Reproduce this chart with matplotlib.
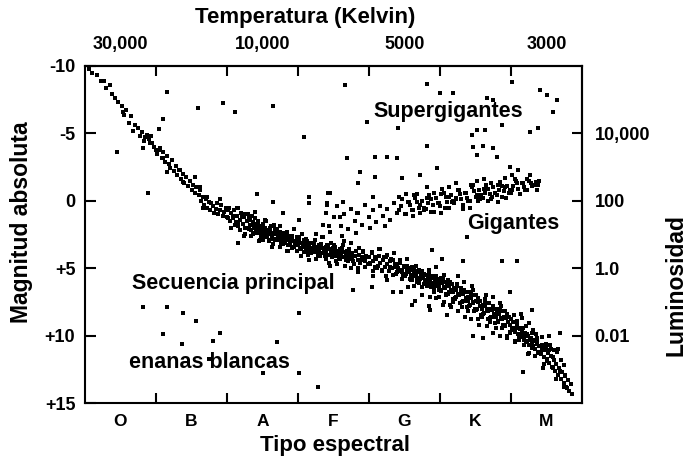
import numpy as np
import matplotlib
matplotlib.use("Agg")
import matplotlib.pyplot as plt

# Diagrama H-R: x = tipo espectral (O=0.5 ... M=6.5), y = magnitud absoluta
spectral = ['O', 'B', 'A', 'F', 'G', 'K', 'M']
temp_labels = ['30,000', '10,000', '5000', '3000']
temp_pos = [0.5, 2.5, 4.5, 6.5]
mag_ticks = [-10, -5, 0, 5, 10, 15]
mag_labels = ['-10', '-5', '0', '+5', '+10', '+15']
lum_ticks = [-5, 0, 5, 10]
lum_labels = ['10,000', '100', '1.0', '0.01']

# secuencia principal (estimado a ojo)
ms_hot = [(0.05, -9.8), (0.1, -9.5), (0.17, -9.3), (0.22, -8.9), (0.27, -8.9), (0.3, -8.4), (0.35, -8.6),
          (0.38, -7.9), (0.42, -7.6), (0.47, -7.3), (0.52, -7.0), (0.54, -6.6), (0.58, -6.7), (0.55, -6.4),
          (0.65, -6.3), (0.62, -5.8), (0.7, -5.6), (0.75, -5.4), (0.68, -5.2), (0.8, -5.1), (0.78, -4.8),
          (0.85, -4.7), (0.9, -4.6), (0.95, -4.3), (0.88, -4.9), (0.97, -4.0), (1.0, -3.8), (0.83, -4.4),
          (0.93, -4.8), (0.82, -3.9), (0.92, -4.3), (1.06, -3.8), (1.1, -3.2), (1.22, -3.0), (1.34, -2.3),
          (1.38, -1.4), (1.55, -1.8), (1.62, -1.0), (1.72, -0.3), (1.66, 0.5), (1.9, -0.1), (2.0, 0.7)]
ms_b = [(1.02, -3.5), (1.05, -3.9), (1.08, -3.2), (1.1, -3.6), (1.12, -2.9), (1.15, -3.3), (1.18, -2.7),
        (1.2, -2.4), (1.22, -3.0), (1.25, -2.2), (1.28, -2.6), (1.3, -1.9), (1.33, -2.3), (1.35, -1.6),
        (1.38, -2.0), (1.4, -1.3), (1.42, -1.8), (1.45, -1.1), (1.48, -1.5), (1.5, -0.8), (1.52, -1.2),
        (1.55, -0.6), (1.57, -1.0), (1.6, -0.4), (1.62, -0.8), (1.64, 0.0), (1.66, -0.3), (1.68, 0.3),
        (1.7, -0.1), (1.72, 0.5), (1.74, 0.1), (1.76, 0.7), (1.78, 0.2), (1.8, 0.4), (1.82, 0.9),
        (1.84, 0.6), (1.86, 0.2), (1.88, 1.0), (1.9, 0.7), (1.92, 0.3), (1.94, 1.1), (1.96, 0.8), (1.98, 0.5)]
ms_a = [(2.00, 1.2), (2.02, 0.6), (2.04, 1.5), (2.06, 0.9), (2.08, 1.3), (2.10, 0.7), (2.12, 1.6),
        (2.14, 1.1), (2.16, 1.9), (2.18, 1.4), (2.20, 0.9), (2.22, 1.7), (2.24, 1.2), (2.26, 2.0),
        (2.28, 1.5), (2.30, 1.0), (2.32, 1.8), (2.34, 2.2), (2.36, 1.6), (2.38, 2.0), (2.40, 1.3),
        (2.42, 2.4), (2.44, 1.8), (2.46, 2.1), (2.48, 2.6), (2.50, 1.7), (2.52, 2.3), (2.54, 2.0),
        (2.56, 2.7), (2.58, 2.2), (2.60, 2.5), (2.62, 1.9), (2.64, 2.8), (2.66, 2.4), (2.68, 2.1),
        (2.70, 2.9), (2.72, 2.6), (2.74, 2.3), (2.76, 3.1), (2.78, 2.7), (2.80, 2.4), (2.82, 3.0),
        (2.84, 2.8), (2.86, 3.3), (2.88, 2.6), (2.90, 3.0), (2.92, 2.8), (2.94, 3.4), (2.96, 3.1),
        (2.98, 2.7), (2.15, 0.5), (2.35, 1.1), (2.55, 1.5), (2.75, 1.9), (2.45, 3.0), (2.65, 3.2),
        (2.85, 3.7), (2.25, 2.5), (2.05, 2.0), (2.50, 2.9), (2.15, 3.1),
        (2.31, 2.1), (2.33, 1.4), (2.37, 2.5), (2.39, 1.7), (2.41, 2.0), (2.43, 1.5), (2.47, 2.3),
        (2.49, 1.9), (2.51, 2.5), (2.53, 2.0), (2.57, 2.4), (2.59, 2.9), (2.61, 2.2), (2.63, 2.6),
        (2.67, 2.9), (2.69, 2.5), (2.71, 2.2), (2.73, 2.8), (2.77, 2.5), (2.79, 3.0), (2.81, 2.7),
        (2.83, 2.4), (2.87, 2.9), (2.89, 3.2), (2.91, 2.6), (2.93, 3.0), (2.97, 3.3), (2.99, 2.9)]
ms_f = [(3.00, 3.3), (3.02, 2.9), (3.04, 3.6), (3.06, 3.1), (3.08, 3.8), (3.10, 3.4), (3.12, 3.0),
        (3.14, 3.7), (3.16, 3.3), (3.18, 3.9), (3.20, 3.5), (3.22, 3.1), (3.24, 3.8), (3.26, 3.4),
        (3.28, 4.0), (3.30, 3.6), (3.32, 3.2), (3.34, 3.9), (3.36, 3.5), (3.38, 4.1), (3.40, 3.7),
        (3.42, 3.3), (3.44, 4.0), (3.46, 3.6), (3.48, 4.2), (3.50, 3.8), (3.52, 3.4), (3.54, 4.1),
        (3.56, 3.7), (3.58, 4.3), (3.60, 3.9), (3.62, 3.5), (3.64, 4.2), (3.66, 3.8), (3.68, 4.4),
        (3.70, 4.0), (3.72, 3.6), (3.74, 4.3), (3.76, 3.9), (3.78, 4.5), (3.80, 4.1), (3.82, 3.7),
        (3.84, 4.4), (3.86, 4.0), (3.88, 4.6), (3.90, 4.2), (3.92, 3.8), (3.94, 4.5), (3.96, 4.1),
        (3.98, 4.7), (3.15, 4.4), (3.45, 4.8), (3.75, 5.0), (3.35, 2.7), (3.65, 3.0), (3.85, 5.3),
        (3.55, 4.7), (3.25, 2.5),
        (3.01, 3.1), (3.03, 3.5), (3.07, 3.2), (3.09, 2.9), (3.11, 3.6), (3.13, 3.2), (3.17, 3.5),
        (3.19, 3.1), (3.21, 3.8), (3.23, 3.4), (3.27, 3.7), (3.29, 3.3), (3.31, 3.9), (3.33, 3.5),
        (3.37, 3.8), (3.39, 3.4), (3.41, 4.0), (3.43, 3.6), (3.47, 3.9), (3.49, 3.5), (3.51, 4.1),
        (3.53, 3.7), (3.57, 4.0), (3.59, 3.6), (3.61, 4.2), (3.63, 3.8), (3.67, 4.1), (3.69, 3.7),
        (3.71, 4.3), (3.73, 3.9)]
ms_g = [(4.00, 4.2), (4.02, 4.7), (4.04, 3.9), (4.06, 4.5), (4.08, 4.9), (4.10, 4.3), (4.12, 4.8),
        (4.14, 4.1), (4.16, 4.6), (4.18, 5.1), (4.20, 4.4), (4.22, 4.9), (4.24, 4.2), (4.26, 4.7),
        (4.28, 5.2), (4.30, 4.5), (4.32, 5.0), (4.34, 4.4), (4.36, 4.9), (4.38, 5.4), (4.40, 4.7),
        (4.42, 5.2), (4.44, 4.6), (4.46, 5.1), (4.48, 5.6), (4.50, 4.9), (4.52, 5.4), (4.54, 4.8),
        (4.56, 5.3), (4.58, 5.8), (4.60, 5.1), (4.62, 5.6), (4.64, 5.0), (4.66, 5.5), (4.68, 6.0),
        (4.70, 5.3), (4.72, 5.8), (4.74, 5.2), (4.76, 5.7), (4.78, 6.2), (4.80, 5.5), (4.82, 6.0),
        (4.84, 5.4), (4.86, 5.9), (4.88, 6.4), (4.90, 5.7), (4.92, 6.2), (4.94, 5.6), (4.96, 6.1),
        (4.98, 6.6), (4.05, 5.6), (4.25, 5.9), (4.55, 6.4), (4.65, 7.4), (4.75, 7.0), (4.85, 7.8),
        (4.45, 6.8), (4.15, 3.6), (4.35, 3.9), (4.95, 7.2),
        (4.41, 5.0), (4.43, 4.5), (4.47, 5.3), (4.49, 4.8), (4.51, 5.6), (4.53, 5.1), (4.57, 5.0),
        (4.59, 5.5), (4.61, 5.9), (4.63, 5.3), (4.67, 5.7), (4.69, 5.2), (4.71, 6.1), (4.73, 5.5),
        (4.77, 5.4), (4.79, 5.9), (4.81, 6.3), (4.83, 5.7), (4.87, 6.1), (4.89, 5.6), (4.91, 6.5),
        (4.93, 5.9), (4.97, 5.8), (4.99, 6.3)]
ms_k = [(5.00, 6.0), (5.02, 6.6), (5.04, 5.8), (5.06, 6.4), (5.08, 7.0), (5.10, 6.2), (5.12, 6.8),
        (5.14, 6.0), (5.16, 6.6), (5.18, 7.3), (5.20, 6.5), (5.22, 7.1), (5.24, 6.3), (5.26, 6.9),
        (5.28, 7.6), (5.30, 6.8), (5.32, 7.4), (5.34, 6.6), (5.36, 7.2), (5.38, 7.9), (5.40, 7.1),
        (5.42, 7.7), (5.44, 6.9), (5.46, 7.5), (5.48, 8.2), (5.50, 7.4), (5.52, 8.0), (5.54, 7.2),
        (5.56, 7.8), (5.58, 8.5), (5.60, 7.7), (5.62, 8.3), (5.64, 7.5), (5.66, 8.1), (5.68, 8.8),
        (5.70, 8.0), (5.72, 8.6), (5.74, 7.8), (5.76, 8.4), (5.78, 9.1), (5.80, 8.3), (5.82, 8.9),
        (5.84, 8.1), (5.86, 8.7), (5.88, 9.4), (5.90, 8.6), (5.92, 9.2), (5.94, 8.4), (5.96, 9.0),
        (5.98, 9.7), (5.15, 7.9), (5.35, 8.6), (5.55, 9.2), (5.75, 9.8), (5.25, 5.6), (5.45, 6.3),
        (5.65, 7.0), (5.85, 7.6), (5.05, 7.5), (5.95, 10.2),
        (5.01, 6.7), (5.03, 6.1), (5.07, 6.5), (5.09, 6.0), (5.11, 6.9), (5.13, 6.3), (5.17, 6.2),
        (5.19, 6.8), (5.21, 7.2), (5.23, 6.6), (5.27, 7.0), (5.29, 6.5), (5.31, 7.5), (5.33, 6.9),
        (5.37, 6.8), (5.39, 7.4), (5.41, 7.8), (5.43, 7.2), (5.47, 7.6), (5.49, 7.0), (5.51, 8.1),
        (5.53, 7.5), (5.57, 7.4), (5.59, 8.0), (5.61, 8.4), (5.63, 7.8), (5.67, 8.2), (5.69, 7.6),
        (5.71, 8.7), (5.73, 8.1), (5.77, 8.0), (5.79, 8.6), (5.81, 9.0), (5.83, 8.4), (5.87, 8.8),
        (5.89, 8.2), (5.91, 9.3), (5.93, 8.7), (5.97, 8.6), (5.99, 9.2)]
ms_m = [(6.00, 8.8), (6.02, 9.4), (6.04, 9.0), (6.06, 9.7), (6.08, 9.2), (6.10, 9.9), (6.12, 9.4),
        (6.14, 10.1), (6.16, 9.6), (6.18, 10.3), (6.20, 9.8), (6.22, 10.5), (6.24, 10.0), (6.26, 10.7),
        (6.28, 10.2), (6.30, 10.9), (6.32, 10.4), (6.34, 11.0), (6.36, 10.6), (6.38, 11.2), (6.40, 10.8),
        (6.42, 11.4), (6.44, 10.9), (6.46, 11.6), (6.48, 11.1), (6.50, 11.8), (6.52, 11.3), (6.54, 12.0),
        (6.56, 11.5), (6.58, 12.3), (6.60, 11.8), (6.62, 12.6), (6.64, 12.1), (6.66, 12.9), (6.68, 12.4),
        (6.70, 13.2), (6.72, 12.7), (6.74, 13.5), (6.76, 13.0), (6.78, 13.8), (6.80, 13.3), (6.82, 14.1),
        (6.84, 13.6), (6.86, 14.3), (6.05, 10.4), (6.25, 11.3), (6.45, 12.4), (6.15, 8.7), (6.35, 9.9),
        (6.55, 10.7), (6.65, 11.2), (6.75, 12.2), (6.69, 9.8), (6.3, 8.1), (6.17, 12.7),
        (6.01, 9.6), (6.03, 9.0), (6.07, 9.4), (6.09, 8.9), (6.11, 10.0), (6.13, 9.5), (6.17, 9.4),
        (6.19, 10.0), (6.21, 10.4), (6.23, 9.9), (6.27, 10.3), (6.29, 9.8), (6.31, 10.8), (6.33, 10.3),
        (6.37, 10.2), (6.39, 10.8), (6.41, 11.2), (6.43, 10.7), (6.47, 11.1), (6.49, 10.6), (6.51, 11.7),
        (6.53, 11.1), (6.57, 11.0), (6.59, 11.6)]
# mas estrellas en la banda, dispersion irregular
ms_band = [(2.01, 1.3), (2.035, 0.5), (2.06, 2.0), (2.09, 1.1), (2.11, 1.8), (2.14, 0.5), (2.16, 1.6),
           (2.19, 2.2), (2.21, 1.2), (2.24, 2.6), (2.26, 1.0), (2.29, 2.0), (2.31, 1.3), (2.34, 2.6),
           (2.36, 1.8), (2.39, 2.4), (2.41, 2.3), (2.44, 1.5), (2.46, 2.9), (2.49, 2.0), (2.51, 2.7),
           (2.54, 1.4), (2.56, 2.4), (2.59, 3.0), (2.61, 2.0), (2.64, 3.4), (2.66, 1.8), (2.69, 2.8),
           (2.71, 2.1), (2.74, 3.4), (2.76, 2.6), (2.79, 3.2), (2.81, 3.1), (2.84, 2.3), (2.86, 3.7),
           (2.89, 2.7), (2.91, 3.5), (2.94, 2.1), (2.96, 3.1), (2.99, 3.7), (3.01, 2.7), (3.04, 4.1),
           (3.06, 2.5), (3.09, 3.4), (3.11, 2.8), (3.14, 4.0), (3.16, 3.2), (3.19, 3.8), (3.21, 3.7),
           (3.24, 2.9), (3.26, 4.3), (3.29, 3.3), (3.31, 4.1), (3.34, 2.7), (3.36, 3.7), (3.39, 4.3),
           (3.41, 3.3), (3.44, 4.6), (3.46, 3.1), (3.49, 4.0), (3.51, 3.3), (3.54, 4.5), (3.56, 3.8),
           (3.59, 4.3), (3.61, 4.2), (3.64, 3.3), (3.66, 4.8), (3.69, 3.8), (3.71, 4.5), (3.74, 3.1),
           (3.76, 4.2), (3.79, 4.7), (3.81, 3.7), (3.84, 5.0), (3.86, 3.5), (3.89, 4.4), (3.91, 3.7),
           (3.94, 4.9), (3.96, 4.2), (3.99, 4.7), (4.01, 4.6), (4.04, 3.8), (4.06, 5.2), (4.09, 4.2),
           (4.11, 5.0), (4.14, 3.6), (4.16, 4.6), (4.19, 5.2), (4.21, 4.2), (4.24, 5.6), (4.26, 4.0),
           (4.29, 4.9), (4.31, 4.3), (4.34, 5.5), (4.36, 4.7), (4.39, 5.3), (4.41, 5.2), (4.44, 4.4),
           (4.46, 5.8), (4.49, 4.9), (4.51, 5.6), (4.54, 4.3), (4.56, 5.3), (4.59, 5.9), (4.61, 4.9),
           (4.64, 6.3), (4.66, 4.8), (4.69, 5.7), (4.71, 5.1), (4.74, 6.4), (4.76, 5.6), (4.79, 6.2),
           (4.81, 6.2), (4.84, 5.1), (4.86, 7.1), (4.89, 5.7), (4.91, 6.8), (4.94, 4.9), (4.96, 6.3),
           (4.99, 7.1), (5.01, 5.7), (5.04, 7.7), (5.06, 5.5), (5.09, 6.9), (5.11, 5.9), (5.14, 7.7),
           (5.16, 6.7), (5.19, 7.5), (5.21, 7.3), (5.24, 6.2), (5.26, 8.2), (5.29, 6.8), (5.31, 7.9),
           (5.34, 6.0), (5.36, 7.4), (5.39, 8.2), (5.41, 6.8), (5.44, 8.8), (5.46, 6.6), (5.49, 8.0),
           (5.51, 7.0), (5.54, 8.8), (5.56, 7.8), (5.59, 8.6), (5.61, 8.4), (5.64, 7.3), (5.66, 9.3),
           (5.69, 8.0), (5.71, 9.0), (5.74, 7.1), (5.76, 8.6), (5.79, 9.4), (5.81, 8.0), (5.84, 10.0),
           (5.86, 7.8), (5.89, 9.2), (5.91, 8.2), (5.94, 10.0), (5.96, 9.0), (5.99, 9.8), (6.01, 9.6),
           (6.04, 8.5), (6.06, 10.5), (6.09, 9.2), (6.11, 10.3), (6.14, 8.4), (6.16, 9.9), (6.19, 10.7),
           (6.21, 9.3), (6.24, 11.4), (6.26, 9.1), (6.29, 10.6), (6.31, 9.6), (6.34, 11.5), (6.36, 10.4),
           (6.39, 11.3), (6.41, 11.2), (6.44, 10.1), (6.46, 12.1), (6.49, 10.8), (6.51, 11.9), (6.54, 10.0),
           (6.56, 11.5), (6.59, 12.4), (6.61, 11.1), (6.64, 13.2), (6.66, 11.0), (6.69, 12.6), (6.71, 11.8),
           (6.74, 13.8), (6.76, 12.9), (6.79, 13.9)]
ms_below = [(3.77, 6.6), (4.04, 6.4), (4.34, 6.8), (4.6, 7.7), (4.86, 8.1), (5.1, 8.5), (5.46, 10.0),
            (5.6, 10.2), (6.08, 4.5), (5.99, 6.8), (5.87, 4.5), (5.32, 4.5), (5.38, 2.7), (4.89, 3.65),
            (5.03, 4.3)]

# gigantes
giants = [(3.35, 1.8), (3.40, 0.9), (3.45, 2.3), (3.50, 1.2), (3.55, 0.4), (3.60, 1.9), (3.65, 1.0),
          (3.70, 2.1), (3.75, 0.6), (3.80, 1.5), (3.85, 0.9), (3.90, 1.8), (3.95, 0.3), (4.00, 1.2),
          (4.05, 0.7), (4.10, 1.6), (4.15, 0.4), (4.20, 1.1), (4.25, 0.6), (4.30, 1.4), (4.35, 0.2),
          (4.40, 0.9), (4.45, 0.4), (4.50, 1.0), (4.55, 0.1), (4.60, 0.7), (4.65, -0.2), (4.70, 0.5),
          (4.75, 0.0), (4.80, 0.6), (4.85, -0.4), (4.90, 0.3), (4.95, -0.2), (5.00, 0.4), (5.05, -0.6),
          (5.10, 0.1), (5.15, -0.4), (5.20, 0.2), (5.25, -0.8), (5.30, -0.1), (5.35, -0.6), (5.40, 0.0),
          (5.45, -1.0), (5.50, -0.3), (5.55, -0.8), (5.60, -0.2), (5.65, -1.2), (5.70, -0.5), (5.75, -1.0),
          (5.80, -0.4), (5.85, -1.4), (5.90, -0.7), (5.95, -1.1), (6.00, -0.6), (6.05, -1.6), (6.10, -0.9),
          (6.15, -1.3), (6.20, -0.8), (6.25, -1.5), (6.30, -1.1), (6.35, -1.4), (4.42, -0.3), (4.62, 1.1),
          (4.82, -1.0), (5.02, 0.9), (5.22, -1.3), (5.42, 0.5), (5.62, -1.6), (5.82, 0.1), (6.02, -1.9),
          (4.72, 0.9), (4.92, 0.8), (5.12, -1.0), (5.32, 0.6), (5.52, -1.5), (5.72, -0.1), (5.92, -1.7),
          (6.12, -0.5), (4.52, -0.5), (4.22, 1.9), (4.02, 2.0), (3.82, 2.4), (3.62, 2.6),
          (4.58, 0.3), (4.68, 0.1), (4.78, 0.5), (4.88, -0.1), (4.98, 0.2), (5.08, -0.3), (5.18, 0.0),
          (5.28, -0.5), (5.38, -0.2), (5.48, -0.7), (5.58, -0.4), (5.68, -0.9), (5.78, -0.6), (5.88, -1.1),
          (5.98, -0.8), (6.08, -1.3), (6.18, -1.0), (6.28, -1.3), (4.63, -0.4), (4.83, 0.2), (5.03, -0.9),
          (5.23, -0.2), (5.43, -1.2), (5.63, -0.6), (5.83, -0.8), (6.03, -1.1), (6.23, -1.6), (5.13, 0.5),
          (5.33, 0.3), (5.53, 0.0), (5.73, -0.3), (5.93, -0.2), (6.38, -1.2), (6.40, -1.5),
          (4.42, 0.7), (4.47, -0.1), (4.52, 1.0), (4.57, 0.1), (4.62, 0.7), (4.67, -0.5), (4.72, 0.3),
          (4.77, 0.7), (4.82, -0.2), (4.87, 0.8), (4.92, -0.6), (4.97, 0.2), (5.02, -0.5), (5.07, 0.5),
          (5.12, -0.3), (5.17, 0.1), (5.22, -0.1), (5.27, -0.8), (5.32, 0.3), (5.37, -0.6), (5.42, 0.0),
          (5.47, -1.2), (5.52, -0.4), (5.57, -0.1), (5.62, -0.9), (5.67, 0.0), (5.72, -1.3), (5.77, -0.6),
          (5.82, -1.2), (5.87, -0.3), (5.92, -1.0), (5.97, -0.6), (6.02, -0.8), (6.07, -1.5), (6.12, -0.5),
          (6.17, -1.3), (6.22, -0.8), (6.27, -1.9), (6.32, -1.2), (6.36, -0.8),
          (2.42, -0.5), (2.65, 0.1), (3.15, -0.3), (3.15, 0.2), (3.42, -0.6), (3.41, 0.3), (3.44, 1.9),
          (3.01, 1.4), (2.79, 0.9), (2.39, 0.8), (3.45, -0.6), (3.63, 0.1), (3.85, -1.3), (3.83, 0.9),
          (3.59, 1.2), (3.41, 0.2), (4.06, -0.3), (0.89, -0.6), (1.15, -2.1)]

# supergigantes y estrellas dispersas arriba
supergiants = [(1.15, -8.1), (1.59, -6.9), (1.94, -7.25), (2.11, -6.6), (2.65, -7.0), (1.1, -6.1),
               (1.04, -5.3), (0.45, -3.6), (3.08, -4.7), (3.69, -3.2), (4.08, -3.25), (4.25, -3.25),
               (4.39, -3.2), (3.87, -2.1), (4.08, -1.8), (4.46, -1.7), (4.72, -1.9), (4.96, -2.4),
               (4.82, -4.1), (5.46, -4.0), (5.6, -4.1), (5.52, -3.4), (5.75, -3.9), (5.8, -3.25),
               (5.99, -2.5), (6.1, -2.3), (6.59, -6.6), (6.65, -7.5), (6.41, -8.2), (6.5, -7.85),
               (6.01, -8.8), (6.38, -5.4), (6.27, -5.1), (5.87, -5.6), (5.63, -5.25), (5.52, -5.25),
               (5.45, -4.9), (5.0, -8.0), (5.18, -8.0), (4.82, -8.7), (3.97, -5.85), (4.41, -5.4),
               (5.66, -7.6), (5.75, -7.5), (3.66, -8.6)]

# enanas blancas
dwarfs = [(0.82, 7.9), (1.16, 7.9), (1.38, 8.3), (1.56, 8.9), (1.1, 9.9), (1.37, 10.6), (1.8, 10.4),
          (1.9, 9.8), (3.01, 8.3), (2.7, 10.5), (2.5, 12.8), (3.01, 12.8), (3.28, 13.8), (1.75, 11.7)]

plt.rcParams['font.family'] = ['Liberation Sans', 'DejaVu Sans']
plt.rcParams['font.weight'] = 'bold'

fig = plt.figure(figsize=(6.86, 4.65), dpi=100)
ax = fig.add_axes([85 / 686, 62 / 465, 497 / 686, 337 / 465])

groups = [ms_hot, ms_b, ms_a, ms_f, ms_g, ms_k, ms_m, ms_band, ms_below, giants, supergiants, dwarfs]
for g in groups:
    pts = np.array(g)
    ax.scatter(pts[:, 0], pts[:, 1], s=5, c='black', marker='s', linewidths=0)

ax.set_xlim(0, 7)
ax.set_ylim(15, -10)

# eje inferior: tipos espectrales entre las marcas
ax.set_xticks(range(1, 7))
ax.set_xticklabels([])
ax.set_xticks(np.arange(0.5, 7, 1), minor=True)
ax.set_xticklabels(spectral, minor=True)
ax.tick_params(axis='x', which='major', direction='in', length=7.5, width=1.5)
ax.tick_params(axis='x', which='minor', length=0, pad=8, labelsize=12.5)

ax.set_yticks(mag_ticks)
ax.set_yticklabels(mag_labels)
ax.tick_params(axis='y', direction='in', length=8, width=1.5, pad=7, labelsize=13)

# eje superior: temperatura
top = ax.secondary_xaxis('top')
top.set_xticks(range(1, 7))
top.set_xticklabels([])
top.set_xticks(temp_pos, minor=True)
top.set_xticklabels(temp_labels, minor=True)
top.tick_params(axis='x', which='major', direction='in', length=7.5, width=1.5)
top.tick_params(axis='x', which='minor', length=0, pad=9, labelsize=13)

# eje derecho: luminosidad
right = ax.secondary_yaxis('right')
right.set_yticks(lum_ticks)
right.set_yticklabels(lum_labels)
right.tick_params(axis='y', direction='in', length=7.5, width=1.5, pad=9, labelsize=13)

for sp in list(ax.spines.values()) + list(top.spines.values()) + list(right.spines.values()):
    sp.set_linewidth(1.5)

ax.text(4.06, -6.6, 'Supergigantes', fontsize=15.5, va='center', ha='left')
ax.text(5.38, 1.7, 'Gigantes', fontsize=15.5, va='center', ha='left')
ax.text(0.66, 6.1, 'Secuencia principal', fontsize=15.5, va='center', ha='left')
ax.text(0.62, 12.0, 'enanas blancas', fontsize=15.5, va='center', ha='left')

fig.text(305 / 686, 1 - 18 / 465, 'Temperatura (Kelvin)', fontsize=16, ha='center', va='center')
fig.text(335 / 686, 1 - 445 / 465, 'Tipo espectral', fontsize=16, ha='center', va='center')
fig.text(22 / 686, 1 - 222 / 465, 'Magnitud absoluta', fontsize=16.5, rotation=90, ha='center', va='center')
fig.text(676 / 686, 1 - 285 / 465, 'Luminosidad', fontsize=16.5, rotation=90, ha='center', va='center')

fig.savefig('out.png', dpi=100)
